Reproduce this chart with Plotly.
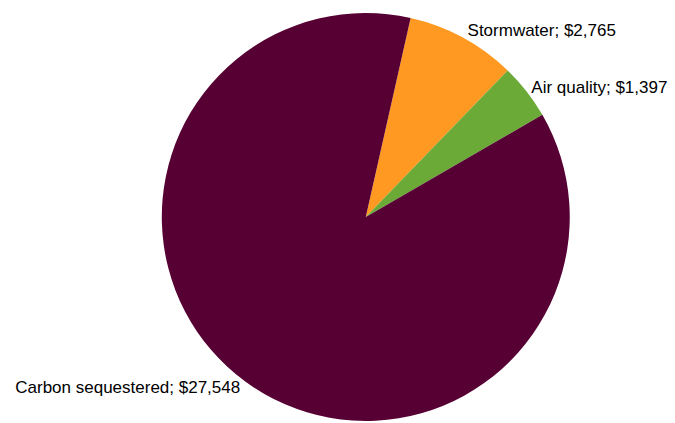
import plotly.graph_objects as go

labels = ["Stormwater", "Air quality", "Carbon sequestered"]
values = [2765, 1397, 27548]
colors = ["#FF9922", "#6BAA37", "#560033"]

texts = [f"{l}; ${v:,}" for l, v in zip(labels, values)]

fig = go.Figure(go.Pie(
    labels=labels,
    values=values,
    text=texts,
    textinfo="text",
    textposition="outside",
    sort=False,
    direction="clockwise",
    rotation=12.7,
    marker=dict(colors=colors, line=dict(width=0)),
    outsidetextfont=dict(family="Liberation Sans", size=17, color="#000000"),
    showlegend=False,
    domain=dict(x=[0.2177, 0.8311], y=[0.024, 1.0]),
    hoverinfo="label+value",
))
fig.update_layout(
    width=675, height=423,
    font=dict(family="Liberation Sans", size=17, color="#000000"),
    margin=dict(l=0, r=0, t=0, b=0),
    paper_bgcolor="white",
    plot_bgcolor="white",
)
fig.write_html("out.html")
